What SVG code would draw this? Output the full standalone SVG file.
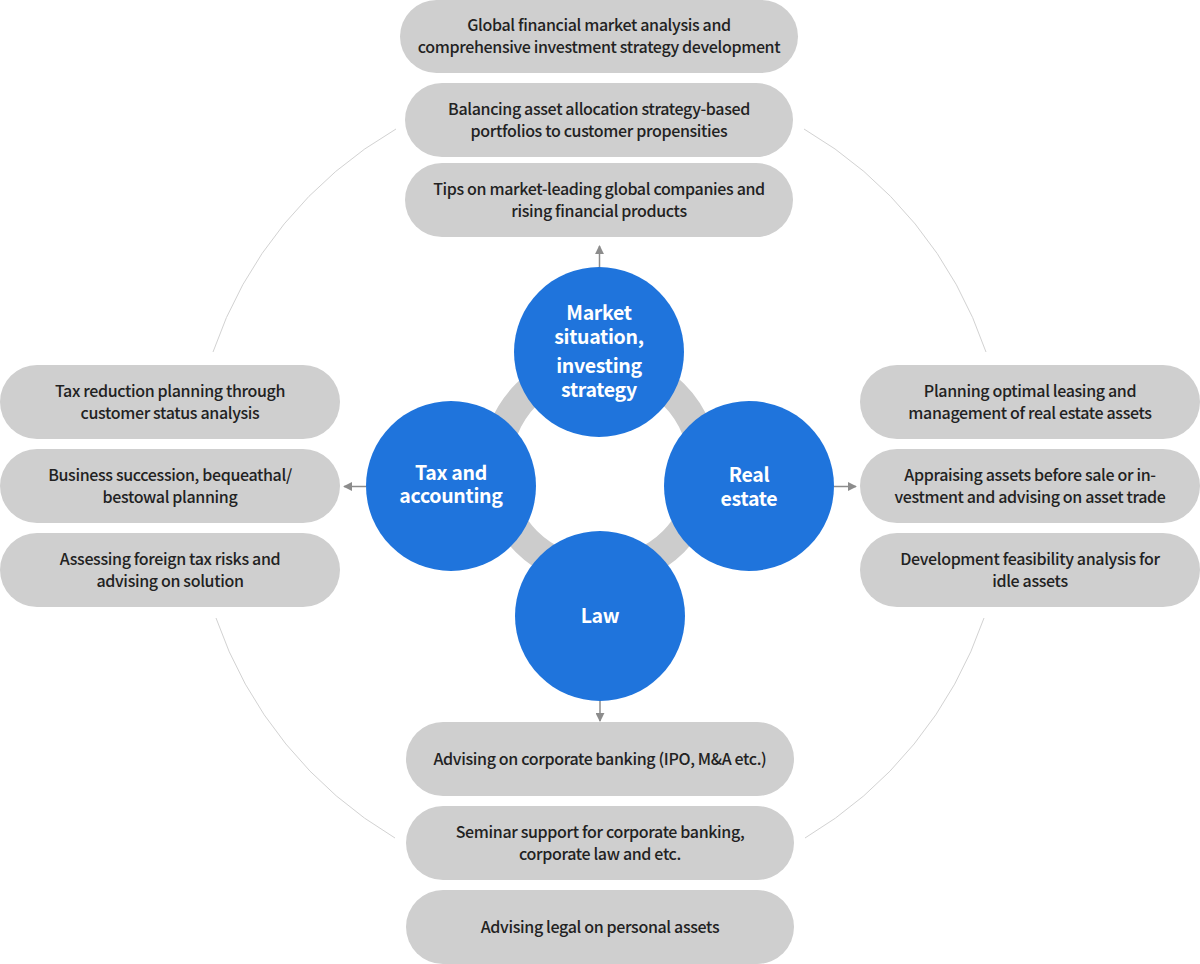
<svg xmlns="http://www.w3.org/2000/svg" width="1200" height="964" viewBox="0 0 1200 964">
<style>
.pill{fill:#cfcfcf}
.pt{font-family:"Noto Sans CJK KR","Noto Sans",sans-serif;font-size:16px;font-weight:500;fill:#222;text-anchor:middle;letter-spacing:-0.35px}
.circ{fill:#1f74dc}
.ct{font-family:"Noto Sans CJK KR","Noto Sans",sans-serif;font-size:19.5px;font-weight:700;fill:#fff;text-anchor:middle;letter-spacing:-0.3px}
.arc{fill:none;stroke:#d2d2d2;stroke-width:1}
.conn{stroke:#8c8c8c;stroke-width:1.5;fill:none;marker-end:url(#ah)}
</style>
<defs>
<marker id="ah" viewBox="0 0 10 10" refX="9" refY="5" markerWidth="6" markerHeight="6" markerUnits="strokeWidth" orient="auto">
<path d="M0,0 L10,5 L0,10 Z" fill="#8c8c8c"/>
</marker>
</defs>
<rect width="1200" height="964" fill="#fff"/>
<g id="outer-arcs">
<path class="arc" d="M396,129 A410,410 0 0 0 213,352"/>
<path class="arc" d="M804,129 A410,410 0 0 1 986,352"/>
<path class="arc" d="M216,618 A410,410 0 0 0 395,838"/>
<path class="arc" d="M984,618 A410,410 0 0 1 805,838"/>
</g>
<g id="ring">
<circle cx="600" cy="468" r="104" fill="none" stroke="#cccccc" stroke-width="30"/>
</g>
<g id="connectors">
<line class="conn" x1="599.5" y1="268" x2="599.5" y2="246"/>
<line class="conn" x1="366" y1="486.5" x2="344" y2="486.5"/>
<line class="conn" x1="834" y1="486.5" x2="856" y2="486.5"/>
<line class="conn" x1="600" y1="701" x2="600" y2="721"/>
</g>
<g id="node-market">
<circle class="circ" cx="599" cy="352" r="85"/>
<text class="ct" x="599" y="320">Market</text>
<text class="ct" x="599" y="344">situation,</text>
<text class="ct" x="599" y="373">investing</text>
<text class="ct" x="599" y="397">strategy</text>
</g>
<g id="node-tax">
<circle class="circ" cx="451" cy="486" r="85"/>
<text class="ct" x="451" y="480">Tax and</text>
<text class="ct" x="451" y="503">accounting</text>
</g>
<g id="node-realestate">
<circle class="circ" cx="749" cy="486" r="85"/>
<text class="ct" x="749" y="482">Real</text>
<text class="ct" x="749" y="506">estate</text>
</g>
<g id="node-law">
<circle class="circ" cx="600" cy="616" r="85"/>
<text class="ct" x="600" y="623">Law</text>
</g>
<g id="pill-top-1">
<rect class="pill" x="400" y="0" width="398" height="73" rx="36.5"/>
<text class="pt" x="599" y="31">Global financial market analysis and</text>
<text class="pt" x="599" y="53">comprehensive investment strategy development</text>
</g>
<g id="pill-top-2">
<rect class="pill" x="405" y="83" width="388" height="74" rx="37"/>
<text class="pt" x="599" y="114.5">Balancing asset allocation strategy-based</text>
<text class="pt" x="599" y="136.5">portfolios to customer propensities</text>
</g>
<g id="pill-top-3">
<rect class="pill" x="405" y="163" width="388" height="74" rx="37"/>
<text class="pt" x="599" y="194.5">Tips on market-leading global companies and</text>
<text class="pt" x="599" y="216.5">rising financial products</text>
</g>
<g id="pill-left-1">
<rect class="pill" x="0" y="365" width="340" height="74" rx="37"/>
<text class="pt" x="170" y="396.5">Tax reduction planning through</text>
<text class="pt" x="170" y="418.5">customer status analysis</text>
</g>
<g id="pill-left-2">
<rect class="pill" x="0" y="449" width="340" height="74" rx="37"/>
<text class="pt" x="170" y="480.5">Business succession, bequeathal/</text>
<text class="pt" x="170" y="502.5">bestowal planning</text>
</g>
<g id="pill-left-3">
<rect class="pill" x="0" y="533" width="340" height="74" rx="37"/>
<text class="pt" x="170" y="564.5">Assessing foreign tax risks and</text>
<text class="pt" x="170" y="586.5">advising on solution</text>
</g>
<g id="pill-right-1">
<rect class="pill" x="860" y="365" width="340" height="74" rx="37"/>
<text class="pt" x="1030" y="396.5">Planning optimal leasing and</text>
<text class="pt" x="1030" y="418.5">management of real estate assets</text>
</g>
<g id="pill-right-2">
<rect class="pill" x="860" y="449" width="340" height="74" rx="37"/>
<text class="pt" x="1030" y="480.5">Appraising assets before sale or in-</text>
<text class="pt" x="1030" y="502.5">vestment and advising on asset trade</text>
</g>
<g id="pill-right-3">
<rect class="pill" x="860" y="533" width="340" height="74" rx="37"/>
<text class="pt" x="1030" y="564.5">Development feasibility analysis for</text>
<text class="pt" x="1030" y="586.5">idle assets</text>
</g>
<g id="pill-bottom-1">
<rect class="pill" x="406" y="722" width="388" height="74" rx="37"/>
<text class="pt" x="600" y="764.5">Advising on corporate banking (IPO, M&amp;A etc.)</text>
</g>
<g id="pill-bottom-2">
<rect class="pill" x="406" y="806" width="388" height="74" rx="37"/>
<text class="pt" x="600" y="837.5">Seminar support for corporate banking,</text>
<text class="pt" x="600" y="859.5">corporate law and etc.</text>
</g>
<g id="pill-bottom-3">
<rect class="pill" x="406" y="890" width="388" height="74" rx="37"/>
<text class="pt" x="600" y="932.5">Advising legal on personal assets</text>
</g>
</svg>
